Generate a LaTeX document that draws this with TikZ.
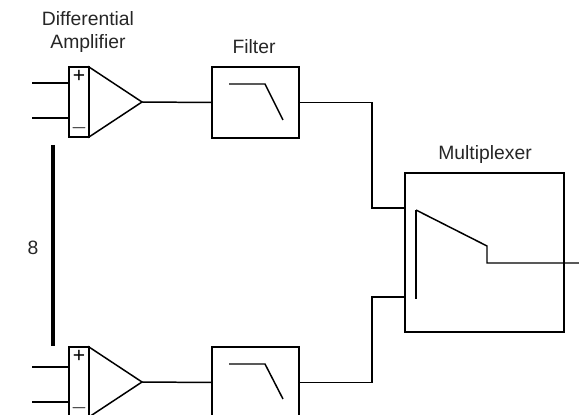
\documentclass[tikz,border=0pt]{standalone}
\usepackage{fontspec}
\setmainfont{Liberation Sans}
\usetikzlibrary{positioning}

\tikzset{
  sig/.style={line width=0.85pt},
  block/.style={draw, line width=0.85pt, minimum width=1.74cm, minimum height=1.42cm, inner sep=0pt},
  muxbox/.style={block, minimum width=3.18cm, minimum height=3.18cm},
  chanbus/.style={line width=1.8pt},
  lbl/.style={font=\fontsize{11}{13}\selectfont, align=center, text=black!85},
  pm/.style={font=\fontsize{12}{12}\selectfont, inner sep=0pt},
}

\begin{document}
\begin{tikzpicture}[x=0.02cm, y=-0.02cm]
      \clip (0,0) rectangle (579,415);

      % amplifier, top channel
      \draw[sig] (69,67) rectangle (89,137);
      \draw[sig] (89,67) -- (142,102) -- (89,137) -- cycle;
      \coordinate (ampA) at (142,102);
      \draw[sig] (32,83) -- (69,83);
      \draw[sig] (32,118) -- (69,118);
      \node[pm] (plusA) at (79,76) {+};
      \node[pm] (minusA) at (79,128) {$-$};
      \node[lbl] (ampAlbl) at (88,32) {Differential\\Amplifier};

      % amplifier, bottom channel
      \draw[sig] (69,347) rectangle (89,417);
      \draw[sig] (89,347) -- (142,382) -- (89,417) -- cycle;
      \coordinate (ampB) at (142,382);
      \draw[sig] (32,367) -- (69,367);
      \draw[sig] (32,402) -- (69,402);
      \node[pm] (plusB) at (79,356) {+};
      \node[pm] (minusB) at (79,408) {$-$};

      % channels in between
      \draw[chanbus] (53,145) -- (53,346);
      \node[lbl] (nchan) at (33,248) {8};

      % filters
      \node[block] (filtA) at (255.5,102.5) {};
      \node[block] (filtB) at (255.5,382.5) {};
      \node[lbl] (filtlbl) at (254,47) {Filter};
      \draw[sig] (229,84) -- (265,84) -- (283,120);
      \draw[sig] (229,364) -- (265,364) -- (283,399);
      \draw[sig] (ampA) -- (filtA.west);
      \draw[sig] (ampB) -- (filtB.west);

      % multiplexer
      \node[muxbox] (mux) at (484.5,252.5) {};
      \node[lbl] (muxlbl) at (485,155) {Multiplexer};
      \coordinate (inA) at (mux.west |- 0,208);
      \coordinate (inB) at (mux.west |- 0,297);
      \draw[sig] (filtA.east) -| (372,208) -- (inA);
      \draw[sig] (filtB.east) -| (372,297) -- (inB);

      % switch
      \draw[line width=1.5pt] (416,210) -- (416,299);
      \coordinate (out) at (579,263);
      \draw[sig] (416,210) -- (487,246) -- (487,263) -- (out);
\end{tikzpicture}
\end{document}
